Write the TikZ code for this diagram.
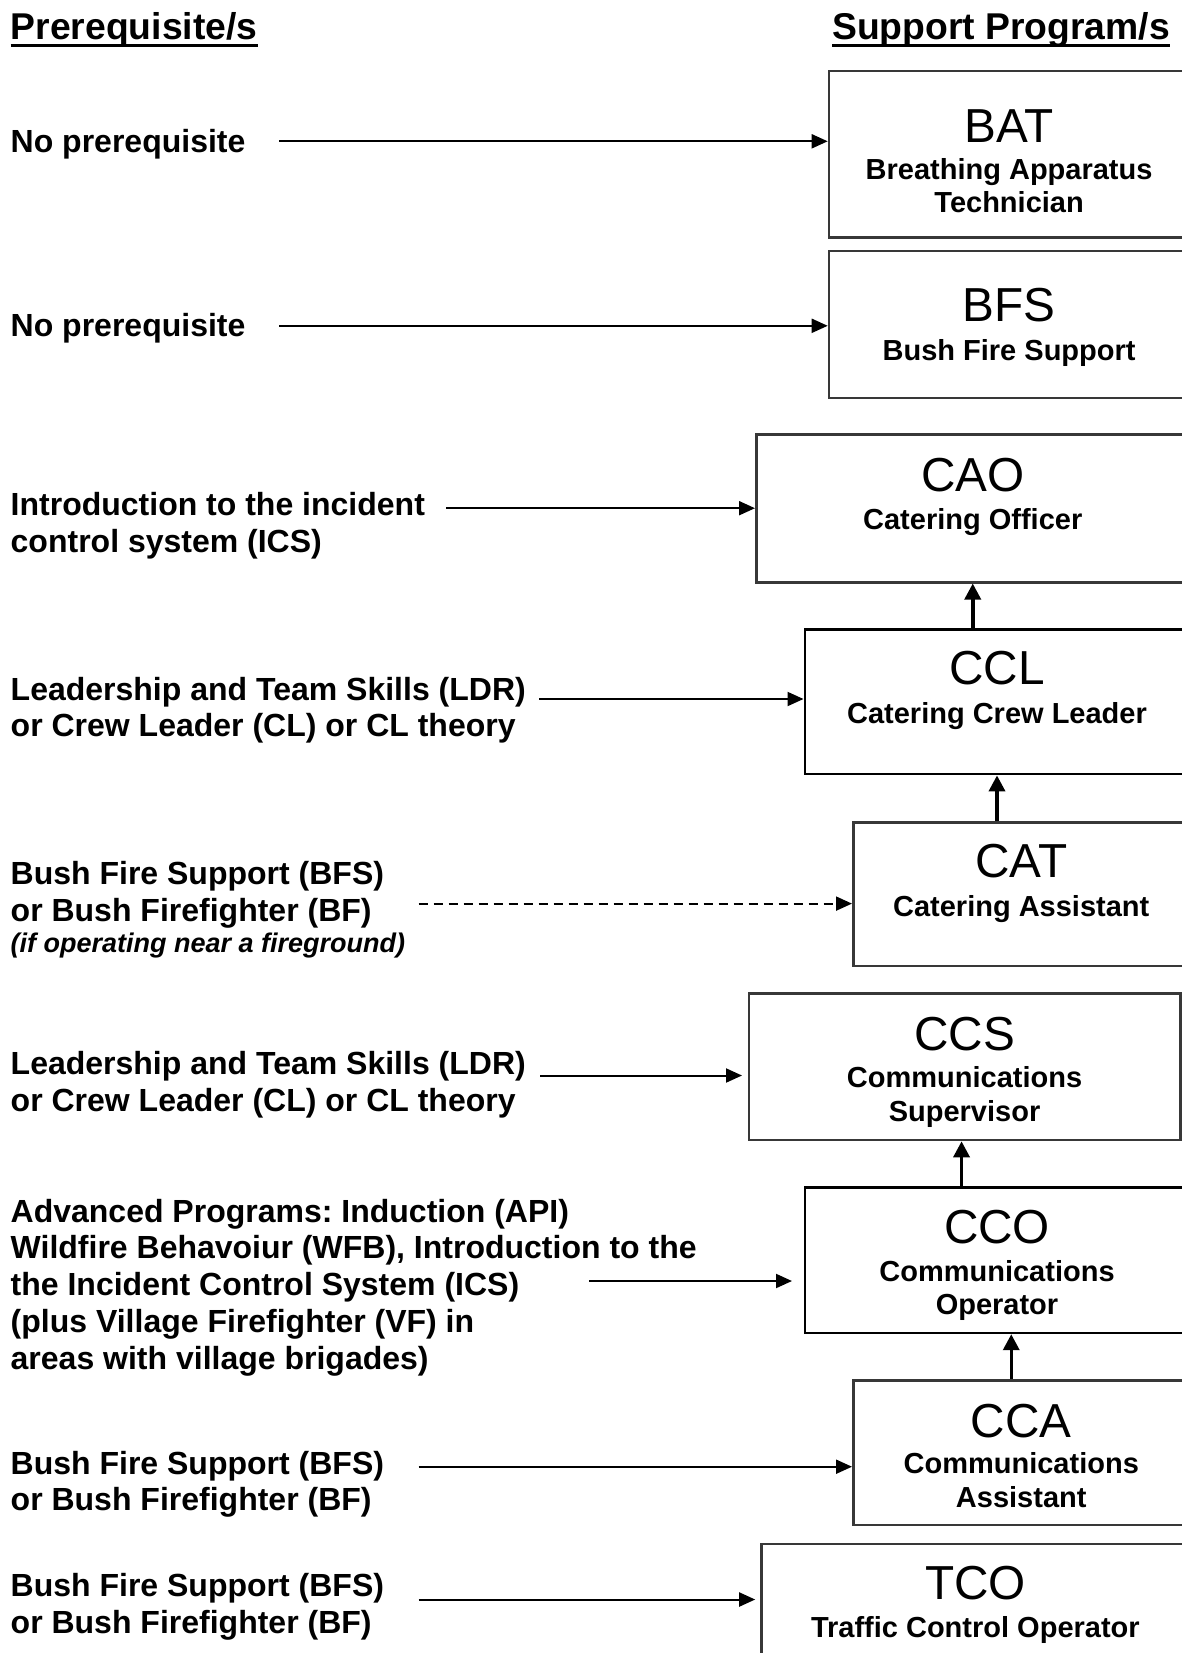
\documentclass[tikz,border=0pt]{standalone}
\usepackage{fontspec}
\setmainfont{Liberation Sans}
\usetikzlibrary{arrows.meta}
\frenchspacing

\begin{document}
\begin{tikzpicture}[x=1pt,y=-1pt,
  hdr/.style={font=\bfseries\fontsize{37.3}{42}\selectfont, inner sep=0pt, anchor=base west},
  % multi-line nodes: the base anchor sits on the last line
  req/.style={font=\bfseries\fontsize{32}{36.9}\selectfont, align=left, inner sep=0pt, anchor=base west},
  note/.style={font=\bfseries\itshape\fontsize{27}{31}\selectfont, inner sep=0pt, anchor=base west},
  prog/.style={draw=black!78, line width=2.5pt, fill=white, inner sep=0pt, anchor=north west},
  abbr/.style={font=\fontsize{47.7}{54}\selectfont, inner sep=0pt, anchor=base},
  title/.style={font=\bfseries\fontsize{29}{33.7}\selectfont, align=center, inner sep=0pt, anchor=base},
  link/.style={line width=2pt, -{Triangle[length=16pt,width=14pt]}},
  dlink/.style={link, dash pattern=on 9pt off 6pt},
  uplink/.style={line width=3.5pt, -{Triangle[length=16pt,width=16pt]}},
]
\useasboundingbox (0,0) rectangle (1182,1653);
\clip (0,0) rectangle (1182,1653);
\fill[white] (0,0) rectangle (1182,1653);

% column headings
\node[hdr] (hl) at (10.5,40) {Prerequisite/s};
\node[hdr] (hr) at (832,40) {Support Program/s};
\draw[line width=3.2pt] ([yshift=-5.5pt]hl.base west) -- ([yshift=-5.5pt]hl.base east);
\draw[line width=3.2pt] ([yshift=-5.5pt]hr.base west) -- ([yshift=-5.5pt]hr.base east);

% support program boxes
\node[prog, minimum width=360.3pt, minimum height=166.6pt] (bat) at (827.7,69.6) {};
\node[prog, minimum width=360.3pt, minimum height=146.6pt] (bfs) at (827.7,249.9) {};
\node[prog, minimum width=433pt,   minimum height=147.6pt] (cao) at (755,433.4) {};
\node[prog, draw=black, minimum width=384.5pt, minimum height=144.5pt] (ccl) at (803.5,628.4) {};
\node[prog, minimum width=336pt,   minimum height=143.4pt] (cat) at (852,821.4) {};
\node[prog, minimum width=431.4pt, minimum height=146.6pt] (ccs) at (747.6,992.2) {};
\node[prog, draw=black, minimum width=384.5pt, minimum height=145.5pt] (cco) at (803.5,1186.2) {};
\node[prog, minimum width=336pt,   minimum height=144.4pt] (cca) at (852,1379.2) {};
\node[prog, minimum width=427.8pt, minimum height=160pt]   (tco) at (760.2,1542.6) {};

% box texts
\node[abbr]  (bat-a) at (bat.north |- 0,142.6) {BAT};
\node[title] (bat-t) at (bat.north |- 0,212.8) {Breathing Apparatus\\Technician};
\node[abbr]  (bfs-a) at (bfs.north |- 0,321.8) {BFS};
\node[title] (bfs-t) at (bfs.north |- 0,360.4) {Bush Fire Support};
\node[abbr]  (cao-a) at (cao.north |- 0,491.6) {CAO};
\node[title] (cao-t) at (cao.north |- 0,529.2) {Catering Officer};
\node[abbr]  (ccl-a) at (ccl.north |- 0,684.5) {CCL};
\node[title] (ccl-t) at (ccl.north |- 0,723.2) {Catering Crew Leader};
\node[abbr]  (cat-a) at (cat.north |- 0,877.5) {CAT};
\node[title] (cat-t) at (cat.north |- 0,916.1) {Catering Assistant};
\node[abbr]  (ccs-a) at (ccs.north |- 0,1050.4) {CCS};
\node[title] (ccs-t) at (ccs.north |- 0,1121) {Communications\\Supervisor};
\node[abbr]  (cco-a) at (cco.north |- 0,1243.4) {CCO};
\node[title] (cco-t) at (cco.north |- 0,1314.7) {Communications\\Operator};
\node[abbr]  (cca-a) at (cca.north |- 0,1437.3) {CCA};
\node[title] (cca-t) at (cca.north |- 0,1507) {Communications\\Assistant};
\node[abbr]  (tco-a) at (tco.north |- 0,1599.7) {TCO};
\node[title] (tco-t) at (tco.north |- 0,1637.3) {Traffic Control Operator};

% prerequisites
\node[req] (r1) at (10.5,152.8) {No prerequisite};
\node[req] (r2) at (10.5,336.3) {No prerequisite};
\node[req] (r3) at (10.5,552.4) {Introduction to the incident\\control system (ICS)};
\node[req] (r4) at (10.5,736.9) {Leadership and Team Skills (LDR)\\or Crew Leader (CL) or CL theory};
\node[req] (r5) at (10.5,921.4) {Bush Fire Support (BFS)\\or Bush Firefighter (BF)};
\node[note] (r5n) at (10.5,952.3) {(if operating near a fireground)};
\node[req] (r6) at (10.5,1111.2) {Leadership and Team Skills (LDR)\\or Crew Leader (CL) or CL theory};
\node[req] (r7) at (10.5,1369.6) {Advanced Programs: Induction (API)\\Wildfire Behavoiur (WFB), Introduction to the\\the Incident Control System (ICS)\\(plus Village Firefighter (VF) in\\areas with village brigades)};
\node[req] (r8) at (10.5,1510.9) {Bush Fire Support (BFS)\\or Bush Firefighter (BF)};
\node[req] (r9) at (10.5,1633.2) {Bush Fire Support (BFS)\\or Bush Firefighter (BF)};

% arrow tails beside the prerequisites
\coordinate (s1) at (279,141.3);
\coordinate (s2) at (279,325.8);
\coordinate (s3) at (446,508.2);
\coordinate (s4) at (539,699);
\coordinate (s5) at (418.6,903.6);
\coordinate (s6) at (540,1075.5);
\coordinate (s7) at (589,1281);
\coordinate (s8) at (418.6,1466.7);
\coordinate (s9) at (418.6,1599.5);

\draw[link] (s1) -- (s1 -| bat.west);
\draw[link] (s2) -- (s2 -| bfs.west);
\draw[link] (s3) -- (s3 -| cao.west);
\draw[link] (s4) -- (s4 -| ccl.west);
\draw[dlink] (s5) -- (s5 -| cat.west);
\draw[link, shorten >=5.6pt] (s6) -- (s6 -| ccs.west);
\draw[link, shorten >=11.5pt] (s7) -- (s7 -| cco.west);
\draw[link] (s8) -- (s8 -| cca.west);
\draw[link, shorten >=5pt] (s9) -- (s9 -| tco.west);

% progression between programs
\draw[uplink] (cao.south |- ccl.north) -- (cao.south);
\draw[uplink] (ccl.south |- cat.north) -- (ccl.south);
\draw[uplink] ([xshift=-3pt]ccs.south |- cco.north) -- ([xshift=-3pt]ccs.south);
\draw[uplink] ([xshift=-10pt]cca.north) -- ([xshift=-10pt]cca.north |- cco.south);
\end{tikzpicture}
\end{document}
